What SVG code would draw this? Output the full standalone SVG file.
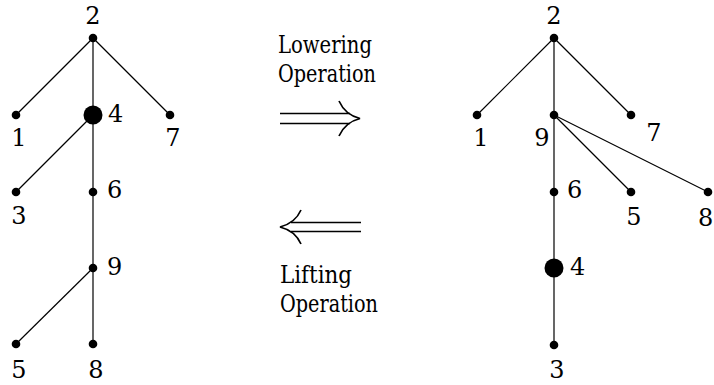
<svg xmlns="http://www.w3.org/2000/svg" width="714" height="385" viewBox="0 0 714 385">
<style>
.e{stroke:#000;stroke-width:1.2;fill:none}
.n{fill:#000}
.t{font-family:'DejaVu Serif',serif;font-size:24px;fill:#000}
.w{font-family:'DejaVu Serif',serif;font-size:25px;fill:#000}
.m{text-anchor:middle}
.a{stroke:#000;stroke-width:1.7;fill:none}
</style>
<rect width="714" height="385" fill="#fff"/>
<g id="connectors">
<line class="e" x1="93" y1="38" x2="16" y2="115"/>
<line class="e" x1="93" y1="38" x2="170" y2="115"/>
<line class="e" x1="93" y1="38" x2="93" y2="344"/>
<line class="e" x1="93" y1="115" x2="16" y2="192"/>
<line class="e" x1="93" y1="268" x2="16" y2="344"/>
<line class="e" x1="554" y1="38" x2="477" y2="115"/>
<line class="e" x1="554" y1="38" x2="631" y2="115"/>
<line class="e" x1="554" y1="38" x2="554" y2="345"/>
<line class="e" x1="554" y1="115" x2="631" y2="192"/>
<line class="e" x1="554" y1="115" x2="708" y2="192"/>
</g>
<g id="L2"><circle class="n" cx="93" cy="38" r="4.3"/><text class="t m" x="93" y="24">2</text></g>
<g id="L1"><circle class="n" cx="16" cy="115" r="4.3"/><text class="t m" x="19" y="146">1</text></g>
<g id="L4"><circle class="n" cx="93" cy="115" r="9.5"/><text class="t" x="108" y="122">4</text></g>
<g id="L7"><circle class="n" cx="170" cy="115" r="4.3"/><text class="t m" x="173" y="146">7</text></g>
<g id="L3"><circle class="n" cx="16" cy="192" r="4.3"/><text class="t m" x="19" y="224">3</text></g>
<g id="L6"><circle class="n" cx="93" cy="192" r="4.3"/><text class="t" x="107" y="198">6</text></g>
<g id="L9"><circle class="n" cx="93" cy="268" r="4.3"/><text class="t" x="107" y="275">9</text></g>
<g id="L5"><circle class="n" cx="16" cy="344" r="4.3"/><text class="t m" x="19" y="378">5</text></g>
<g id="L8"><circle class="n" cx="93" cy="344" r="4.3"/><text class="t m" x="96" y="378">8</text></g>
<g id="R2"><circle class="n" cx="554" cy="38" r="4.3"/><text class="t m" x="554" y="24">2</text></g>
<g id="R1"><circle class="n" cx="477" cy="115" r="4.3"/><text class="t m" x="481" y="146">1</text></g>
<g id="R9"><circle class="n" cx="554" cy="115" r="4.3"/><text class="t m" x="542" y="146">9</text></g>
<g id="R7"><circle class="n" cx="631" cy="115" r="4.3"/><text class="t m" x="654" y="141">7</text></g>
<g id="R6"><circle class="n" cx="554" cy="192" r="4.3"/><text class="t" x="567" y="198">6</text></g>
<g id="R5"><circle class="n" cx="631" cy="192" r="4.3"/><text class="t m" x="634" y="225">5</text></g>
<g id="R8"><circle class="n" cx="708" cy="192" r="4.3"/><text class="t" x="698" y="226">8</text></g>
<g id="R4"><circle class="n" cx="554" cy="268" r="9.5"/><text class="t" x="570" y="275">4</text></g>
<g id="R3"><circle class="n" cx="554" cy="345" r="4.3"/><text class="t m" x="557" y="378">3</text></g>
<g id="lowering">
<text class="w" x="278" y="53" textLength="94" lengthAdjust="spacingAndGlyphs">Lowering</text>
<text class="w" x="278" y="82" textLength="98" lengthAdjust="spacingAndGlyphs">Operation</text>
<line class="a" x1="280" y1="113.5" x2="350" y2="113.5"/>
<line class="a" x1="280" y1="123.5" x2="350" y2="123.5"/>
<path class="a" d="M339 101 C343 110,350 116,360 118.5 C350 121,343 127,339 136"/>
</g>
<g id="lifting">
<line class="a" x1="291" y1="222.5" x2="361" y2="222.5"/>
<line class="a" x1="291" y1="231.5" x2="361" y2="231.5"/>
<path class="a" d="M301 210 C297 219,290 224.5,280 227 C290 229.5,297 235,301 244"/>
<text class="w" x="280" y="283" textLength="72" lengthAdjust="spacingAndGlyphs">Lifting</text>
<text class="w" x="280" y="312" textLength="98" lengthAdjust="spacingAndGlyphs">Operation</text>
</g>
</svg>
